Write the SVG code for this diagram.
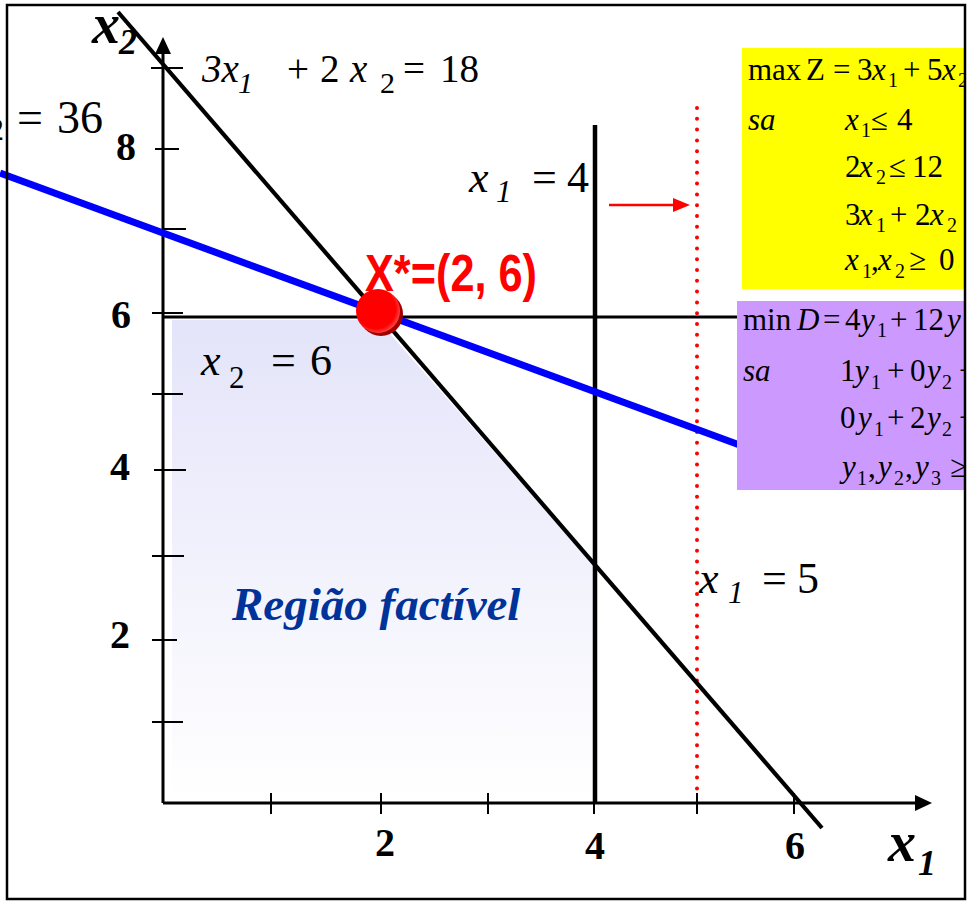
<svg xmlns="http://www.w3.org/2000/svg" width="967" height="901" viewBox="0 0 967 901">
<defs>
<style>
.t{font-family:"Liberation Serif","Times New Roman",serif;fill:#000}
.i{font-style:italic}
.b{font-weight:bold}
.bx{font-size:31px}
.sb{font-size:20px}
.ax{stroke:#000;stroke-width:3;fill:none}
.tk{stroke:#000;stroke-width:2}
</style>
<linearGradient id="shade" x1="0" y1="0" x2="0" y2="1">
<stop offset="0" stop-color="#E4E4FA"/>
<stop offset="1" stop-color="#FFFFFF"/>
</linearGradient>
<radialGradient id="ball" cx="0.45" cy="0.45" r="0.6">
<stop offset="0.75" stop-color="#FF0000"/>
<stop offset="1" stop-color="#FF5A5A"/>
</radialGradient>
<clipPath id="clipR"><rect x="0" y="0" width="965" height="901"/></clipPath>
</defs>
<rect width="967" height="901" fill="#fff"/>

<g id="feasible-region">
<polygon points="172,320 378,320 595,567 595,801 172,801" fill="url(#shade)"/>
</g>

<g id="axes">
<line class="ax" x1="163" y1="803" x2="918" y2="803"/>
<polygon points="932,803 915,795 915,811" fill="#000"/>
<line class="ax" x1="163" y1="803" x2="163" y2="52"/>
<polygon points="163,37 155,54 171,54" fill="#000"/>
<g class="tk">
<line x1="151" y1="68" x2="183" y2="68"/>
<line x1="155" y1="149" x2="179" y2="149"/>
<line x1="163" y1="229" x2="186" y2="229"/>
<line x1="152" y1="313" x2="183" y2="313"/>
<line x1="152" y1="394" x2="183" y2="394"/>
<line x1="154" y1="470" x2="186" y2="470"/>
<line x1="152" y1="556" x2="184" y2="556"/>
<line x1="152" y1="640" x2="177" y2="640"/>
<line x1="152" y1="722" x2="183" y2="722"/>
<line x1="271" y1="793" x2="271" y2="814"/>
<line x1="381" y1="793" x2="381" y2="814"/>
<line x1="488" y1="793" x2="488" y2="814"/>
<line x1="594" y1="793" x2="594" y2="814"/>
<line x1="697" y1="793" x2="697" y2="814"/>
<line x1="794" y1="793" x2="794" y2="814"/>
</g>
<g class="t b" font-size="40">
<text x="116" y="160">8</text>
<text x="111" y="328">6</text>
<text x="110" y="480">4</text>
<text x="110" y="648">2</text>
<text x="375" y="856">2</text>
<text x="585" y="859">4</text>
<text x="785" y="859">6</text>
</g>
<text class="t b i" x="92" y="43" font-size="56">x<tspan x="119" y="54" font-size="36">2</tspan></text>
<text class="t b i" x="888" y="861" font-size="56">x<tspan x="918" y="875" font-size="36">1</tspan></text>
</g>

<g id="connectors">
<line id="line-x1-4" x1="595" y1="125" x2="595" y2="803" stroke="#000" stroke-width="4.5"/>
<line id="line-x2-6" x1="164" y1="317" x2="740" y2="317" stroke="#000" stroke-width="3"/>
<line id="line-x1-5" x1="697" y1="108" x2="697" y2="790" stroke="#FF0000" stroke-width="4" stroke-dasharray="0 10.8" stroke-linecap="round"/>
<line id="line-3x1-2x2-18" x1="118" y1="12" x2="822" y2="828" stroke="#000" stroke-width="4.2"/>
<line id="line-objective" x1="0" y1="173" x2="745" y2="447" stroke="#0000FF" stroke-width="7"/>
<g id="shift-arrow">
<line x1="609" y1="205" x2="675" y2="205" stroke="#FF0000" stroke-width="2.5"/>
<polygon points="690,205 673,198 673,212" fill="#FF0000"/>
</g>
</g>

<g id="primal-box" clip-path="url(#clipR)">
<rect x="742" y="48" width="225" height="241" fill="#FFFF00"/>
<g class="t bx">
<text x="748" y="80">max</text>
<text x="806" y="80">Z</text>
<text x="833" y="80">=</text>
<text x="857" y="80">3</text>
<text class="i" x="872" y="80">x</text>
<text class="sb" x="888" y="87">1</text>
<text x="903" y="80">+</text>
<text x="927" y="80">5</text>
<text class="i" x="942" y="80">x</text>
<text class="sb" x="958" y="87">2</text>

<text class="i" x="748" y="130">sa</text>
<text class="i" x="845" y="130">x</text>
<text class="sb" x="861" y="137">1</text>
<text x="871" y="130">≤</text>
<text x="897" y="130">4</text>

<text x="845" y="177">2</text>
<text class="i" x="859" y="177">x</text>
<text class="sb" x="876" y="184">2</text>
<text x="889" y="177">≤</text>
<text x="912" y="177">12</text>

<text x="845" y="225">3</text>
<text class="i" x="859" y="225">x</text>
<text class="sb" x="876" y="232">1</text>
<text x="890" y="225">+</text>
<text x="915" y="225">2</text>
<text class="i" x="930" y="225">x</text>
<text class="sb" x="947" y="232">2</text>
<text x="963" y="225">≤</text>

<text class="i" x="845" y="270">x</text>
<text class="sb" x="862" y="278">1</text>
<text x="871" y="270">,</text>
<text class="i" x="878" y="270">x</text>
<text class="sb" x="895" y="278">2</text>
<text x="909" y="270">≥</text>
<text x="939" y="270">0</text>
</g>
</g>

<g id="dual-box" clip-path="url(#clipR)">
<rect x="737" y="301" width="230" height="189" fill="#CC99FF"/>
<g class="t bx">
<text x="743" y="330">min</text>
<text class="i" x="797" y="330">D</text>
<text x="823" y="330">=</text>
<text x="845" y="330">4</text>
<text class="i" x="861" y="330">y</text>
<text class="sb" x="877" y="337">1</text>
<text x="890" y="330">+</text>
<text x="913" y="330">12</text>
<text class="i" x="947" y="330">y</text>

<text class="i" x="743" y="381">sa</text>
<text x="840" y="381">1</text>
<text class="i" x="855" y="381">y</text>
<text class="sb" x="871" y="389">1</text>
<text x="887" y="381">+</text>
<text x="910" y="381">0</text>
<text class="i" x="927" y="381">y</text>
<text class="sb" x="942" y="389">2</text>
<text x="959" y="381">+</text>

<text x="840" y="428">0</text>
<text class="i" x="858" y="428">y</text>
<text class="sb" x="874" y="436">1</text>
<text x="887" y="428">+</text>
<text x="910" y="428">2</text>
<text class="i" x="927" y="428">y</text>
<text class="sb" x="942" y="436">2</text>
<text x="959" y="428">+</text>

<text class="i" x="842" y="477">y</text>
<text class="sb" x="857" y="485">1</text>
<text x="868" y="477">,</text>
<text class="i" x="878" y="477">y</text>
<text class="sb" x="894" y="485">2</text>
<text x="905" y="477">,</text>
<text class="i" x="915" y="477">y</text>
<text class="sb" x="931" y="485">3</text>
<text x="950" y="477">≥</text>
</g>
</g>

<g id="optimum">
<circle cx="381" cy="314" r="22" fill="#A00000"/>
<circle cx="378" cy="311" r="22" fill="url(#ball)"/>
<text x="365" y="291" font-family="'Liberation Sans',Arial,sans-serif" font-weight="bold" font-size="52" fill="#FF0000" textLength="172" lengthAdjust="spacingAndGlyphs">X*=(2, 6)</text>
</g>

<g id="labels" class="t">
<text font-size="39"><tspan class="i" x="202" y="82">3x</tspan><tspan class="i" x="238" y="93" font-size="30">1</tspan><tspan x="287" y="82">+</tspan><tspan x="320" y="82">2</tspan><tspan class="i" x="350" y="82">x</tspan><tspan x="380" y="93" font-size="30">2</tspan><tspan x="403" y="82">=</tspan><tspan x="440" y="82">18</tspan></text>
<text font-size="46"><tspan x="-12" y="140" font-size="32">2</tspan><tspan x="17" y="133">=</tspan><tspan x="57" y="133">36</tspan></text>
<text font-size="44"><tspan class="i" x="201" y="375">x</tspan><tspan x="229" y="388" font-size="31">2</tspan><tspan x="271" y="375">=</tspan><tspan x="310" y="375">6</tspan></text>
<text font-size="44"><tspan class="i" x="469" y="192">x</tspan><tspan class="i" x="496" y="202" font-size="31">1</tspan><tspan x="532" y="192">=</tspan><tspan x="567" y="192">4</tspan></text>
<text font-size="44"><tspan class="i" x="699" y="593">x</tspan><tspan class="i" x="728" y="603" font-size="31">1</tspan><tspan x="762" y="593">=</tspan><tspan x="797" y="593">5</tspan></text>
<text class="i b" x="232" y="620" font-size="47" fill="#003399">Região factível</text>
</g>

<rect id="frame" x="7" y="5" width="958" height="894" fill="none" stroke="#000" stroke-width="2.5"/>
</svg>
